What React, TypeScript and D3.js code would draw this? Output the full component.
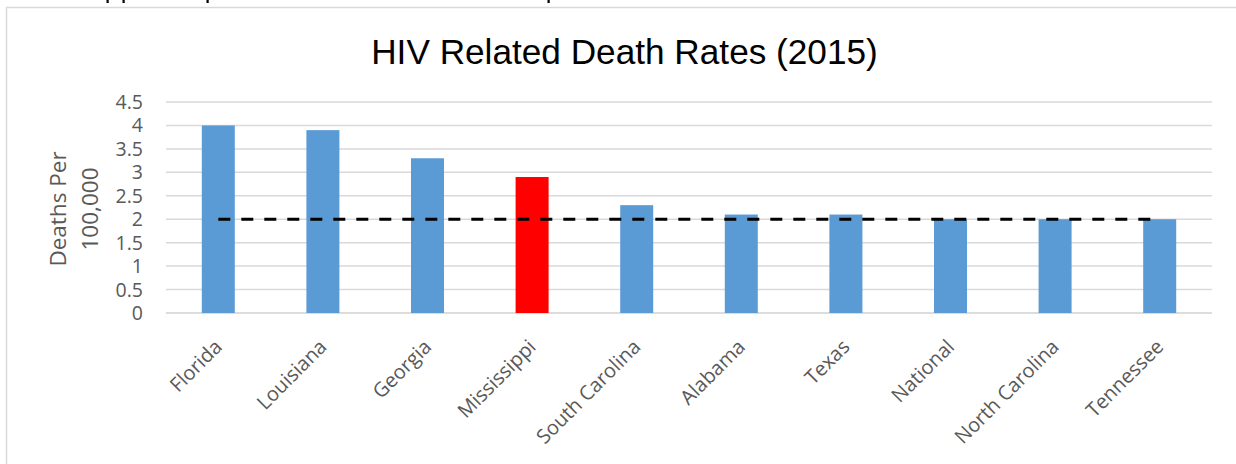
import React from "react";
import * as d3 from "d3";

const categories = ["Florida", "Louisiana", "Georgia", "Mississippi", "South Carolina", "Alabama", "Texas", "National", "North Carolina", "Tennessee"];
const deathRates = [4.0, 3.9, 3.3, 2.9, 2.3, 2.1, 2.1, 2.0, 2.0, 2.0];
const nationalLine = [2, 2, 2, 2, 2, 2, 2, 2, 2, 2];
const highlighted = ["Mississippi"];
const yTicks = [0, 0.5, 1, 1.5, 2, 2.5, 3, 3.5, 4, 4.5];
const titleText = "HIV Related Death Rates (2015)";
const yTitleLines = ["Deaths Per", "100,000"];

const W = 1236;
const H = 464;
const plot = { left: 166, right: 1212, top: 102, bottom: 313 };

export default function App() {
  const x = d3
    .scaleBand<string>()
    .domain(categories)
    .range([plot.left, plot.right])
    .paddingInner(0.6845)
    .paddingOuter(0.6845 / 2);
  const y = d3.scaleLinear().domain([0, 4.5]).range([plot.bottom, plot.top]);
  const cx = (c: string) => (x(c) as number) + x.bandwidth() / 2;
  const line = d3
    .line<number>()
    .x((_, i) => cx(categories[i]))
    .y((d) => y(d));
  const font = "'Open Sans', sans-serif";
  const grey = "#595959";

  return (
    <svg
      width={W}
      height={H}
      style={{ position: "absolute", left: 0, top: 0, display: "block", background: "#fff" }}
    >
      <rect x={0} y={0} width={W} height={H} fill="#fff" />
      {/* cut-off descenders of text above */}
      <g fill="#000">
        <rect x={106.5} y={0} width={2.2} height={3} />
        <rect x={122.5} y={0} width={2.2} height={3} />
        <rect x={206.5} y={0} width={2.2} height={3} />
        <rect x={547.5} y={0} width={2.2} height={3} />
      </g>
      <rect x={6.5} y={7.5} width={W + 10} height={H + 10} fill="#fff" stroke="#D9D9D9" strokeWidth={1.5} />

      <text x={624.5} y={63.5} textAnchor="middle" fontFamily="'Liberation Sans', Arial, sans-serif" fontSize={35.2} fill="#000">
        {titleText}
      </text>

      {yTicks.map((t) => (
        <g key={t}>
          <line x1={plot.left} x2={plot.right} y1={y(t)} y2={y(t)} stroke={t === 0 ? "#D0D0D0" : "#D9D9D9"} strokeWidth={1.5} />
          <text x={143} y={y(t)} dy="0.36em" textAnchor="end" fontFamily={font} fontSize={19.5} fill={grey}>
            {t}
          </text>
        </g>
      ))}

      {yTitleLines.map((s, i) => (
        <text
          key={s}
          transform={`translate(${65.5 + i * 32},${209}) rotate(-90)`}
          textAnchor="middle"
          fontFamily={font}
          fontSize={22.5}
          fill={grey}
        >
          {s}
        </text>
      ))}

      {categories.map((c, i) => (
        <rect
          key={c}
          x={x(c)}
          y={y(deathRates[i])}
          width={x.bandwidth()}
          height={y(0) - y(deathRates[i])}
          fill={highlighted.includes(c) ? "#FF0000" : "#5B9BD5"}
        />
      ))}

      <path d={line(nationalLine) || ""} fill="none" stroke="#000" strokeWidth={3} strokeDasharray="12 11" />

      {categories.map((c) => (
        <text
          key={c}
          transform={`translate(${cx(c) - 2},${341}) rotate(-45)`}
          textAnchor="end"
          dy="0.5em"
          fontFamily={font}
          fontSize={20}
          fill={grey}
        >
          {c}
        </text>
      ))}
    </svg>
  );
}
